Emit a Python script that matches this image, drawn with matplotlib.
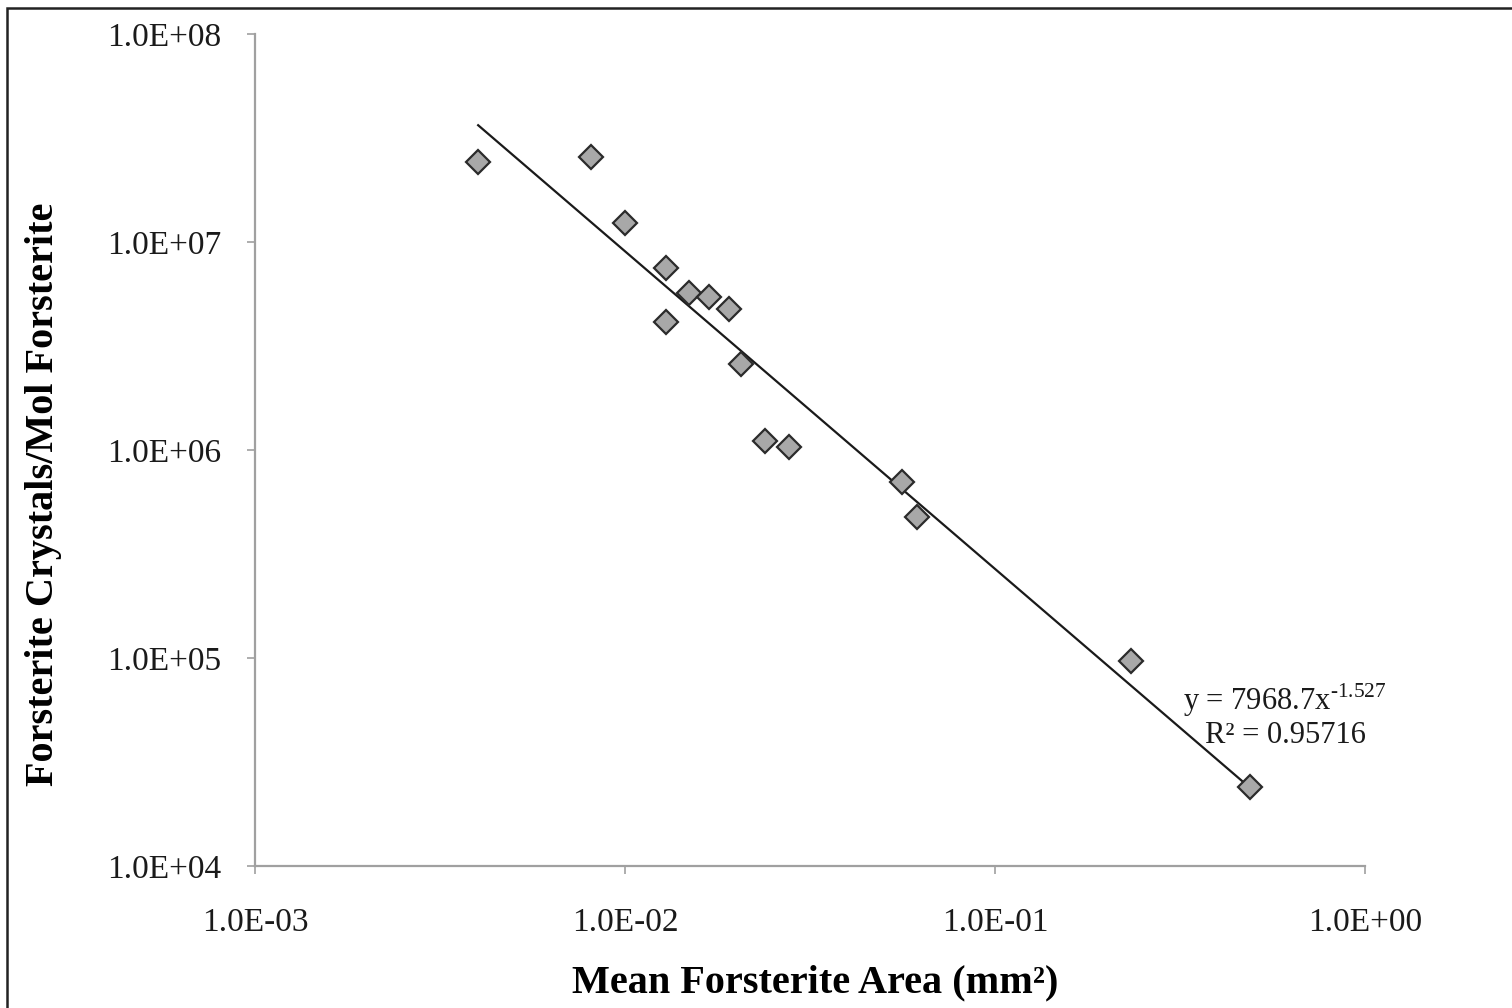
import numpy as np
import matplotlib as mpl
import matplotlib.pyplot as plt
from matplotlib.patches import Rectangle

plt.rcParams['font.family'] = ['Liberation Serif', 'DejaVu Serif']
plt.rcParams['mathtext.fontset'] = 'custom'
plt.rcParams['mathtext.rm'] = 'Liberation Serif'

# mean forsterite area (mm^2) and crystals per mol
area = [0.00401, 0.00809, 0.0100, 0.0129, 0.0129, 0.0149, 0.0169, 0.0191,
        0.0206, 0.0239, 0.0277, 0.0561, 0.0615, 0.233, 0.489]
crystals = [2.43e7, 2.56e7, 1.23e7, 7.5e6, 4.12e6, 5.69e6, 5.44e6, 4.76e6,
            2.59e6, 1.10e6, 1.03e6, 7.02e5, 4.76e5, 9.68e4, 2.40e4]

# power law fit y = a*x^b
fit_a = 7968.7
fit_b = -1.527
fit_r2 = 0.95716

xticks = [1e-3, 1e-2, 1e-1, 1e0]
xticklabels = ['1.0E-03', '1.0E-02', '1.0E-01', '1.0E+00']
yticks = [1e4, 1e5, 1e6, 1e7, 1e8]
yticklabels = ['1.0E+04', '1.0E+05', '1.0E+06', '1.0E+07', '1.0E+08']

fig = plt.figure(figsize=(15.12, 10.08), dpi=100)
ax = fig.add_axes([255/1512, 1 - 866/1008, 1110/1512, 832/1008])

xf = np.array([min(area), max(area)])
ax.plot(xf, fit_a*xf**fit_b, '-', color='#1a1a1a', lw=1.6, zorder=2)
ax.plot(area, crystals, 'D', ms=12, mfc='#a8a8a8', mec='#2b2b2b', mew=1.6,
        ls='none', zorder=3)

ax.set_xscale('log')
ax.set_yscale('log')
ax.set_xlim(1e-3, 1e0)
ax.set_ylim(1e4, 1e8)
ax.set_xticks(xticks)
ax.set_xticklabels(xticklabels)
ax.set_yticks(yticks)
ax.set_yticklabels(yticklabels)
ax.minorticks_off()

for s in ['top', 'right']:
    ax.spines[s].set_visible(False)
for s in ['left', 'bottom']:
    ax.spines[s].set_color('#a0a0a0')
    ax.spines[s].set_linewidth(1.6)
ax.tick_params(axis='both', colors='#a0a0a0', labelcolor='#1a1a1a',
               length=6, width=1.2, labelsize=24)
ax.tick_params(axis='x', pad=24)
ax.tick_params(axis='y', pad=18)

ax.set_xlabel('Mean Forsterite Area (mm²)', fontsize=29, fontweight='bold')
ax.set_ylabel('Forsterite Crystals/Mol Forsterite', fontsize=29, fontweight='bold')
ax.xaxis.set_label_coords(0.505, -0.118)
ax.yaxis.set_label_coords(-0.174, 0.447)

eq = r'y = 7968.7x$^{\text{-%.3f}}$' % abs(fit_b)
ax.text(0.928, 0.199, eq, transform=ax.transAxes,
        ha='center', va='center', fontsize=22, color='#1a1a1a')
ax.text(0.928, 0.157, 'R² = %.5f' % fit_r2, transform=ax.transAxes,
        ha='center', va='center', fontsize=22, color='#1a1a1a')

# outer frame
fig.patches.append(Rectangle((7/1512, -0.05), 1.1, 1 - 8/1008 + 0.05,
                             transform=fig.transFigure, fill=False,
                             ec='#222222', lw=1.8))

fig.savefig('out.png', dpi=100)
